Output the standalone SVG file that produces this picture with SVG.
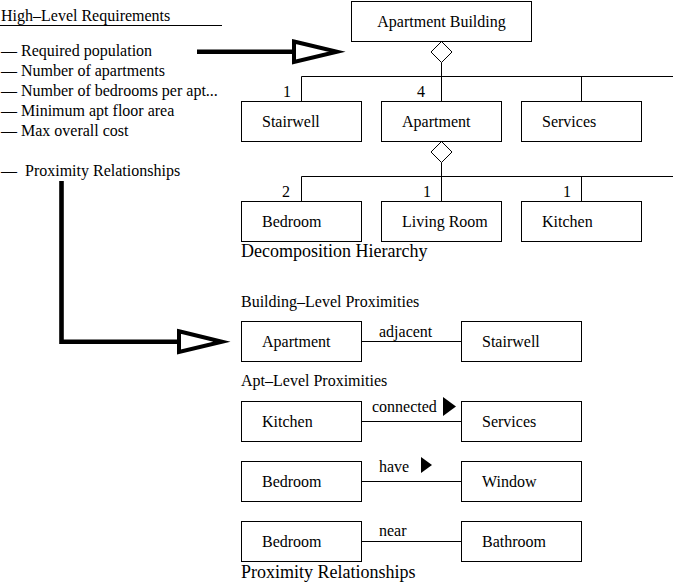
<svg xmlns="http://www.w3.org/2000/svg" width="673" height="587" viewBox="0 0 673 587">
<style>
text{font-family:"Liberation Serif","Times New Roman",serif;font-size:16px;fill:#000}
.title{font-size:18px}
.box{fill:#fff;stroke:#000;stroke-width:1}
.ln{fill:none;stroke:#000;stroke-width:1}
.dia{fill:#fff;stroke:#000;stroke-width:1}
.thick{fill:none;stroke:#000;stroke-width:4.6}
.head{fill:#fff;stroke:#000;stroke-width:4;stroke-linejoin:miter;stroke-miterlimit:10}
.fhead{fill:#000;stroke:none}
</style>
<rect width="673" height="587" fill="#fff"/>

<g id="requirements">
<text x="1" y="21">High–Level Requirements</text>
<line class="ln" x1="0" y1="25.5" x2="222" y2="25.5"/>
<text x="1" y="56">— Required population</text>
<text x="1" y="76">— Number of apartments</text>
<text x="1" y="96">— Number of bedrooms per apt...</text>
<text x="1" y="116">— Minimum apt floor area</text>
<text x="1" y="136">— Max overall cost</text>
<text x="1" y="176" xml:space="preserve">—  Proximity Relationships</text>
</g>

<g id="connectors">
<!-- decomposition level 1 -->
<polygon class="dia" points="441.5,41.5 452,52 441.5,62.5 431,52"/>
<path class="ln" d="M441.5,62.5V101.5M301.5,76.5H673M301.5,76.5V101.5M581.5,76.5V101.5"/>
<!-- decomposition level 2 -->
<polygon class="dia" points="441.5,141.5 452,152 441.5,162.5 431,152"/>
<path class="ln" d="M441.5,162.5V201.5M301.5,176.5H673M301.5,176.5V201.5M581.5,176.5V201.5"/>
<!-- proximity links -->
<path class="ln" d="M361.5,341.5H461.5M361.5,421.5H461.5M361.5,481.5H461.5M361.5,541.5H461.5"/>
<polygon class="fhead" points="443,397 456,406.5 443,416"/>
<polygon class="fhead" points="421,457 432,465 421,473"/>
<!-- thick arrows -->
<path class="thick" d="M197,51.7H294"/>
<polygon class="head" points="294,41.5 337,51.8 294,62"/>
<path class="thick" d="M61.5,181V341.7H179"/>
<polygon class="head" points="179,331.3 222,341.7 179,352"/>
</g>

<g id="labels">
<text x="283" y="97">1</text>
<text x="417" y="97">4</text>
<text x="282" y="197">2</text>
<text x="423" y="197">1</text>
<text x="563" y="197">1</text>
<text x="379" y="336.5">adjacent</text>
<text x="372" y="412">connected</text>
<text x="379" y="472">have</text>
<text x="379" y="536">near</text>
<text class="title" x="241" y="257">Decomposition Hierarchy</text>
<text x="241" y="307">Building–Level Proximities</text>
<text x="241" y="386">Apt–Level Proximities</text>
<text class="title" x="241" y="578">Proximity Relationships</text>
</g>

<g id="apartment-building"><rect class="box" x="351.5" y="1.5" width="180" height="40"/><text x="441.5" y="27" text-anchor="middle">Apartment Building</text></g>
<g id="stairwell"><rect class="box" x="241.5" y="101.5" width="120" height="40"/><text x="262" y="127">Stairwell</text></g>
<g id="apartment"><rect class="box" x="381.5" y="101.5" width="120" height="40"/><text x="402" y="127">Apartment</text></g>
<g id="services"><rect class="box" x="521.5" y="101.5" width="120" height="40"/><text x="542" y="127">Services</text></g>
<g id="bedroom"><rect class="box" x="241.5" y="201.5" width="120" height="40"/><text x="262" y="227">Bedroom</text></g>
<g id="living-room"><rect class="box" x="381.5" y="201.5" width="120" height="40"/><text x="402" y="227">Living Room</text></g>
<g id="kitchen"><rect class="box" x="521.5" y="201.5" width="120" height="40"/><text x="542" y="227">Kitchen</text></g>

<g id="prox-apartment"><rect class="box" x="241.5" y="321.5" width="120" height="40"/><text x="262" y="347">Apartment</text></g>
<g id="prox-stairwell"><rect class="box" x="461.5" y="321.5" width="120" height="40"/><text x="482" y="347">Stairwell</text></g>
<g id="prox-kitchen"><rect class="box" x="241.5" y="401.5" width="120" height="40"/><text x="262" y="427">Kitchen</text></g>
<g id="prox-services"><rect class="box" x="461.5" y="401.5" width="120" height="40"/><text x="482" y="427">Services</text></g>
<g id="prox-bedroom-1"><rect class="box" x="241.5" y="461.5" width="120" height="40"/><text x="262" y="487">Bedroom</text></g>
<g id="prox-window"><rect class="box" x="461.5" y="461.5" width="120" height="40"/><text x="482" y="487">Window</text></g>
<g id="prox-bedroom-2"><rect class="box" x="241.5" y="521.5" width="120" height="40"/><text x="262" y="547">Bedroom</text></g>
<g id="prox-bathroom"><rect class="box" x="461.5" y="521.5" width="120" height="40"/><text x="482" y="547">Bathroom</text></g>
</svg>
